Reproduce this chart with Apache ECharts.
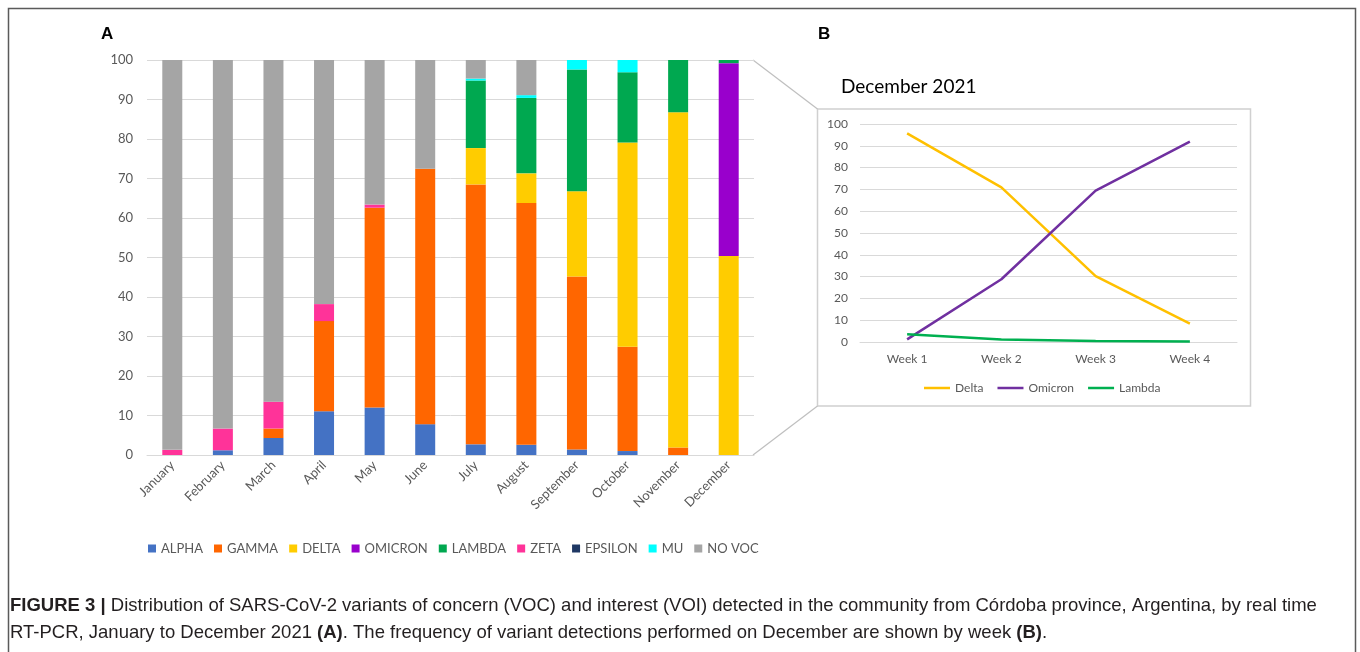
<!DOCTYPE html>
<html>
<head>
<meta charset="utf-8">
<script src="https://cdn.jsdelivr.net/npm/echarts@6/dist/echarts.min.js"></script>
<style>
  html, body { margin: 0; padding: 0; background: #fff; }
  #chart { width: 1360px; height: 652px; }
</style>
</head>
<body>
<div id="chart"></div>
<script>
// Panel A: monthly share (%) of each variant, 2021
const months = ['January', 'February', 'March', 'April', 'May', 'June', 'July', 'August', 'September', 'October', 'November', 'December'];
const alpha   = [0, 1.2, 4.3, 11.1, 12.0, 7.8, 2.7, 2.6, 1.4, 1.0, 0, 0];
const gamma   = [0, 0, 2.4, 22.8, 50.6, 64.7, 65.8, 61.2, 43.8, 26.4, 1.9, 0];
const delta   = [0, 0, 0, 0, 0, 0, 9.2, 7.5, 21.6, 51.7, 84.9, 50.4];
const omicron = [0, 0, 0, 0, 0, 0, 0, 0, 0, 0, 0, 48.8];
const lambda  = [0, 0, 0, 0, 0, 0, 17.1, 19.1, 30.8, 17.8, 13.2, 0.8];
const zeta    = [1.3, 5.5, 6.8, 4.3, 0.8, 0, 0, 0, 0, 0, 0, 0];
const epsilon = [0, 0, 0, 0, 0, 0, 0, 0, 0, 0, 0, 0];
const mu      = [0, 0, 0, 0, 0, 0, 0.5, 0.7, 2.4, 3.1, 0, 0];
const noVoc   = [98.7, 93.3, 86.5, 61.8, 36.6, 27.5, 4.7, 8.9, 0, 0, 0, 0];

// Panel B: December 2021 by week (%)
const weeks = ['Week 1', 'Week 2', 'Week 3', 'Week 4'];
const decDelta   = [95.7, 70.9, 30.2, 8.4];
const decOmicron = [1.2, 28.8, 69.4, 91.9];
const decLambda  = [3.5, 1.1, 0.5, 0.2];

const font = 'Lato, "Liberation Sans", sans-serif';
const axisGrey = '#595959';
const gridGrey = '#D9D9D9';

const barGroups = [
  ['ALPHA', alpha, '#4472C4'],
  ['GAMMA', gamma, '#FF6600'],
  ['DELTA', delta, '#FFCC00'],
  ['OMICRON', omicron, '#9900CC'],
  ['LAMBDA', lambda, '#00A850'],
  ['ZETA', zeta, '#FF3399'],
  ['EPSILON', epsilon, '#1F3864'],
  ['MU', mu, '#00FFFF'],
  ['NO VOC', noVoc, '#A5A5A5']
];

const barSeries = barGroups.map(([name, data, color]) => ({
  name, type: 'bar', stack: 'variants', data,
  xAxisIndex: 0, yAxisIndex: 0, barWidth: 20,
  itemStyle: { color }, emphasis: { disabled: true }
}));

const lineGroups = [
  ['Delta', decDelta, '#FFC000'],
  ['Omicron', decOmicron, '#7030A0'],
  ['Lambda', decLambda, '#00B050']
];
const lineSeries = lineGroups.map(([name, data, color]) => ({
  name, type: 'line', data, xAxisIndex: 1, yAxisIndex: 1,
  symbol: 'none', lineStyle: { color, width: 2.5 }, itemStyle: { color },
  emphasis: { disabled: true }
}));

const chart = echarts.init(document.getElementById('chart'), null, { renderer: 'canvas' });

chart.setOption({
  animation: false,
  backgroundColor: '#fff',
  textStyle: { fontFamily: font },
  grid: [
    { left: 147, right: 606, top: 60, bottom: 197 },
    { left: 860, right: 123, top: 124, bottom: 310 }
  ],
  xAxis: [
    {
      type: 'category', data: months, gridIndex: 0,
      axisLine: { lineStyle: { color: gridGrey } },
      axisTick: { show: false },
      axisLabel: { rotate: 45, color: axisGrey, fontSize: 13, margin: 8, fontFamily: font }
    },
    {
      type: 'category', data: weeks, gridIndex: 1, boundaryGap: true,
      axisLine: { lineStyle: { color: gridGrey } },
      axisTick: { show: false },
      axisLabel: { color: axisGrey, fontSize: 12, margin: 11, fontFamily: font }
    }
  ],
  yAxis: [
    {
      type: 'value', gridIndex: 0, min: 0, max: 100, interval: 10,
      axisLine: { show: false }, axisTick: { show: false },
      splitLine: { lineStyle: { color: gridGrey } },
      axisLabel: { color: axisGrey, fontSize: 13, margin: 14, fontFamily: font }
    },
    {
      type: 'value', gridIndex: 1, min: 0, max: 100, interval: 10,
      axisLine: { show: false }, axisTick: { show: false },
      splitLine: { lineStyle: { color: gridGrey } },
      axisLabel: { color: axisGrey, fontSize: 12, margin: 12, fontFamily: font }
    }
  ],
  legend: [
    {
      data: barGroups.map(g => g[0]),
      left: 143, top: 537, icon: 'rect', itemWidth: 8, itemHeight: 8, itemGap: 11,
      textStyle: { color: axisGrey, fontSize: 13, fontFamily: font }
    },
    {
      data: lineGroups.map(g => g[0]),
      left: 919, top: 377, icon: 'rect', itemWidth: 26, itemHeight: 2.5, itemGap: 14,
      textStyle: { color: axisGrey, fontSize: 12, fontFamily: font }
    }
  ],
  series: barSeries.concat(lineSeries),
  graphic: [
    // outer figure frame
    { type: 'rect', silent: true, z: 100,
      shape: { x: 8.5, y: 8.5, width: 1347, height: 700 },
      style: { fill: 'none', stroke: '#5a5a5a', lineWidth: 1.5 } },
    // panel letters
    { type: 'text', left: 101, top: 26, silent: true,
      style: { text: 'A', font: 'bold 17px "Liberation Sans", Arial, sans-serif', fill: '#000' } },
    { type: 'text', left: 818, top: 26, silent: true,
      style: { text: 'B', font: 'bold 17px "Liberation Sans", Arial, sans-serif', fill: '#000' } },
    // panel B title
    { type: 'text', left: 841, top: 77, silent: true,
      style: { text: 'December 2021', font: '19px ' + font, fill: '#000' } },
    // panel B box
    { type: 'rect', silent: true,
      shape: { x: 817.5, y: 109, width: 433, height: 297 },
      style: { fill: 'none', stroke: '#D0D0D0', lineWidth: 1.5 } },
    // zoom connectors from December bar to panel B
    { type: 'line', silent: true,
      shape: { x1: 753, y1: 60, x2: 817.5, y2: 109 },
      style: { stroke: '#BFBFBF', lineWidth: 1.2 } },
    { type: 'line', silent: true,
      shape: { x1: 753, y1: 455, x2: 817.5, y2: 406 },
      style: { stroke: '#BFBFBF', lineWidth: 1.2 } },
    // caption
    { type: 'text', left: 10, top: 592, silent: true,
      style: {
        text: '{b|FIGURE 3 |} Distribution of SARS-CoV-2 variants of concern (VOC) and interest (VOI) detected in the community from Córdoba province, Argentina, by real time\nRT-PCR, January to December 2021 {b|(A)}. The frequency of variant detections performed on December are shown by week {b|(B)}.',
        font: '18.5px "Liberation Sans", Arial, sans-serif',
        fill: '#231F20', lineHeight: 27,
        rich: {
          b: { font: 'bold 18.5px "Liberation Sans", Arial, sans-serif', fill: '#231F20', lineHeight: 27 }
        }
      } }
  ]
});
</script>
</body>
</html>
